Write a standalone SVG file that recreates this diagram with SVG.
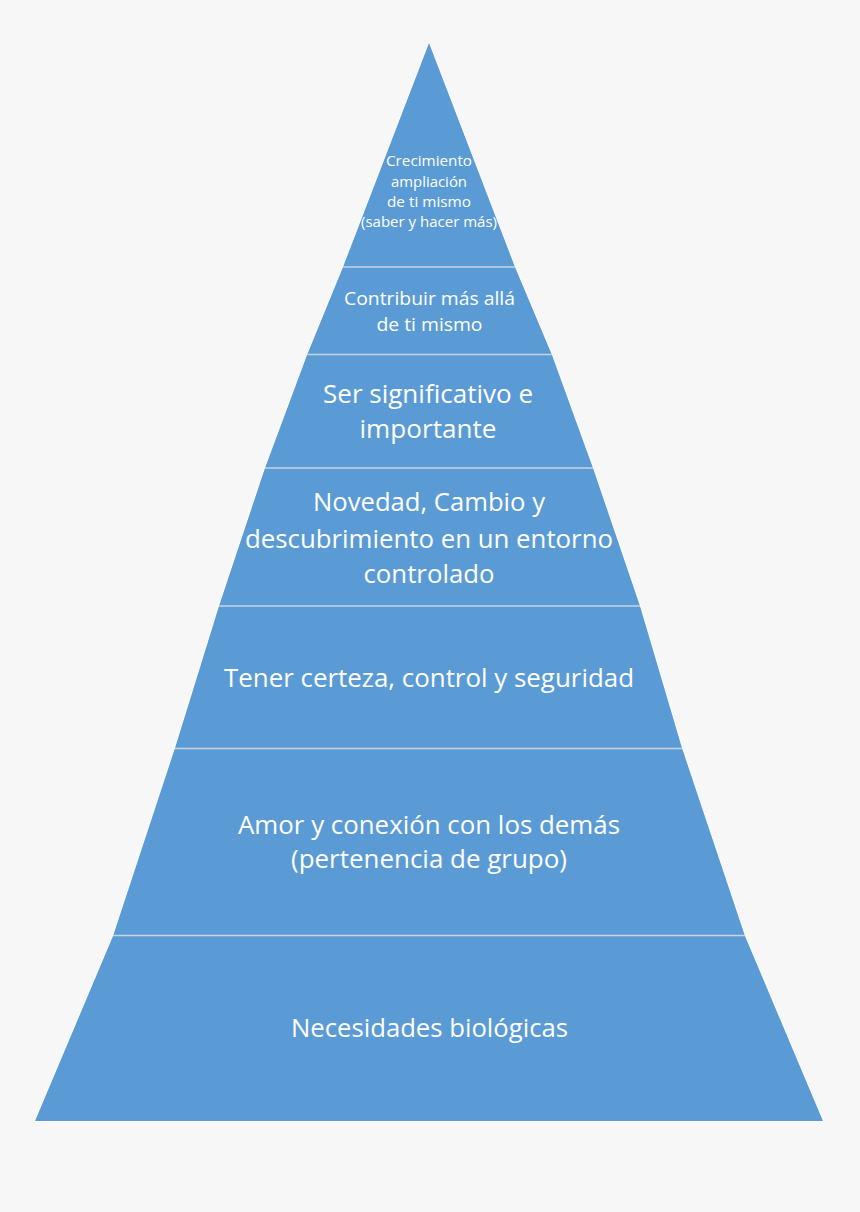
<svg xmlns="http://www.w3.org/2000/svg" width="860" height="1212" viewBox="0 0 860 1212">
  <style>
    .lvl { fill: #5b9bd5; }
    .sep { stroke: #c9d3dd; stroke-width: 1.6; fill: none; }
    .edge { fill: none; stroke: #ffffff; stroke-width: 1.5; stroke-linejoin: miter; }
    text { font-family: "Open Sans", "Liberation Sans", sans-serif; fill: #ffffff; text-anchor: middle; }
    .t1 { font-size: 15px; }
    .t2 { font-size: 18.5px; }
    .t3 { font-size: 25px; }
  </style>
  <rect x="0" y="0" width="860" height="1212" fill="#f7f7f7"/>

  <path class="edge" d="M429,43 L515,267 L552,355 L593,468 L640,606 L682,748 L745,936 L823,1121 L35,1121 L113,936 L175,748 L219,606 L265,468 L307,355 L343,267 Z"/>

  <g id="level1">
    <polygon class="lvl" points="429,43 515,267 343,267"/>
    <text class="t1" x="429" y="166" textLength="86" lengthAdjust="spacingAndGlyphs">Crecimiento</text>
    <text class="t1" x="429" y="186.5" textLength="76" lengthAdjust="spacingAndGlyphs">ampliación</text>
    <text class="t1" x="429" y="207" textLength="84" lengthAdjust="spacingAndGlyphs">de ti mismo</text>
    <text class="t1" x="429" y="227" textLength="136" lengthAdjust="spacingAndGlyphs">(saber y hacer más)</text>
  </g>
  <g id="level2">
    <polygon class="lvl" points="343,267 515,267 552,355 307,355"/>
    <text class="t2" x="429.5" y="305" textLength="171" lengthAdjust="spacingAndGlyphs">Contribuir más allá</text>
    <text class="t2" x="429.5" y="331" textLength="106" lengthAdjust="spacingAndGlyphs">de ti mismo</text>
  </g>
  <g id="level3">
    <polygon class="lvl" points="307,355 552,355 593,468 265,468"/>
    <text class="t3" x="428" y="403" textLength="210" lengthAdjust="spacingAndGlyphs">Ser significativo e</text>
    <text class="t3" x="428" y="438" textLength="137" lengthAdjust="spacingAndGlyphs">importante</text>
  </g>
  <g id="level4">
    <polygon class="lvl" points="265,468 593,468 640,606 219,606"/>
    <text class="t3" x="429" y="511" textLength="232" lengthAdjust="spacingAndGlyphs">Novedad, Cambio y</text>
    <text class="t3" x="429" y="548" textLength="368" lengthAdjust="spacingAndGlyphs">descubrimiento en un entorno</text>
    <text class="t3" x="429" y="583" textLength="131" lengthAdjust="spacingAndGlyphs">controlado</text>
  </g>
  <g id="level5">
    <polygon class="lvl" points="219,606 640,606 682,748 175,748"/>
    <text class="t3" x="429" y="687" textLength="410" lengthAdjust="spacingAndGlyphs">Tener certeza, control y seguridad</text>
  </g>
  <g id="level6">
    <polygon class="lvl" points="175,748 682,748 745,936 113,936"/>
    <text class="t3" x="429" y="834" textLength="382" lengthAdjust="spacingAndGlyphs">Amor y conexión con los demás</text>
    <text class="t3" x="429" y="868" textLength="276" lengthAdjust="spacingAndGlyphs">(pertenencia de grupo)</text>
  </g>
  <g id="level7">
    <polygon class="lvl" points="113,936 745,936 823,1121 35,1121"/>
    <text class="t3" x="429.5" y="1037" textLength="277" lengthAdjust="spacingAndGlyphs">Necesidades biológicas</text>
  </g>

  <g id="connectors">
    <line class="sep" x1="343" y1="267" x2="515" y2="267"/>
    <line class="sep" x1="307" y1="354.5" x2="552" y2="354.5"/>
    <line class="sep" x1="265" y1="468" x2="593" y2="468"/>
    <line class="sep" x1="219" y1="606" x2="640" y2="606"/>
    <line class="sep" x1="175" y1="748.5" x2="682" y2="748.5"/>
    <line class="sep" x1="113" y1="935.5" x2="745" y2="935.5"/>
  </g>
</svg>
